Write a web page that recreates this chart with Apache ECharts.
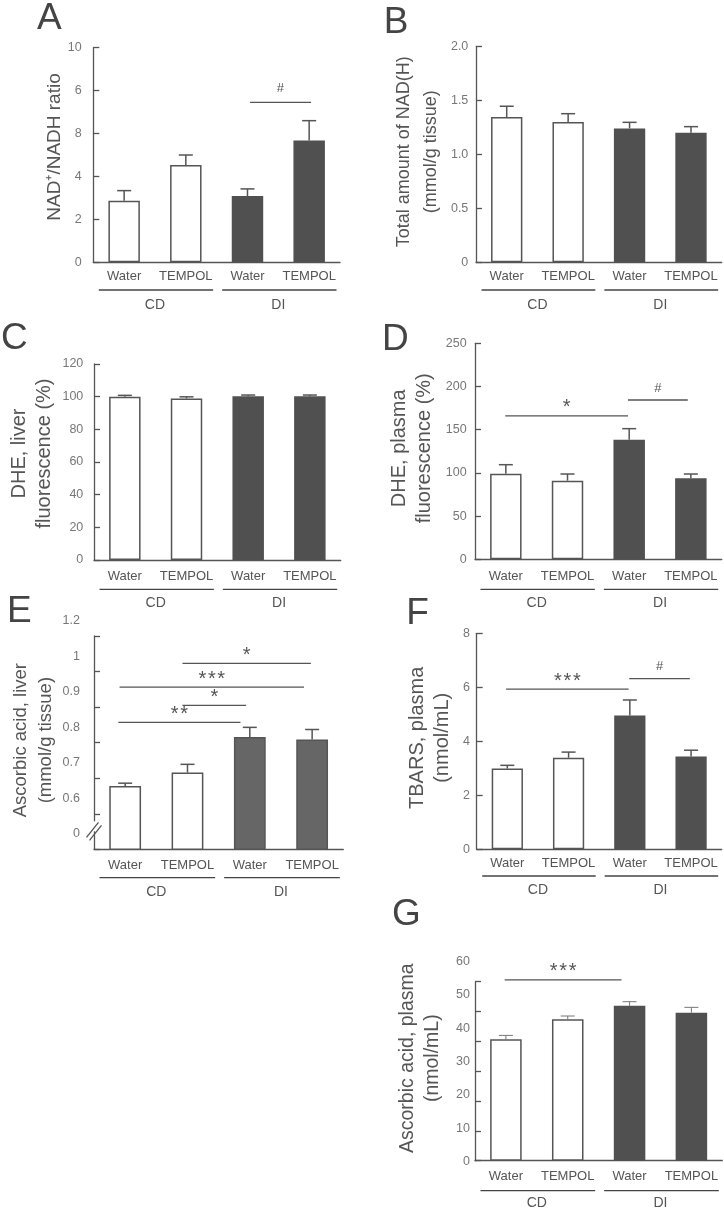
<!DOCTYPE html>
<html><head><meta charset="utf-8">
<script src="https://cdn.jsdelivr.net/npm/echarts@6/dist/echarts.min.js"></script>
<style>html,body{margin:0;padding:0;background:#fff}#c{width:724px;height:1214px}</style>
</head><body><div id="c"></div>
<script>
const categories = ['Water', 'TEMPOL', 'Water', 'TEMPOL'];
const groups = ['CD', 'DI'];

// A: NAD+/NADH ratio
const meanA = [2.87, 4.53, 3.09, 5.68];
const semA = [0.47, 0.47, 0.33, 0.92];
const ticksA = ['0', '2', '4', '8', '6', '10'];
const sigA = [[2.04, 3.03, 7.45, '#']];
// B: Total NAD(H)
const meanB = [1.345, 1.30, 1.24, 1.20];
const semB = [0.10, 0.076, 0.056, 0.056];
const ticksB = ['0', '0.5', '1.0', '1.5', '2.0'];
const sigB = [];
// C: DHE liver
const meanC = [100.0, 98.9, 100.2, 100.2];
const semC = [0.8, 1.0, 0.8, 0.8];
const ticksC = ['0', '20', '40', '60', '80', '100', '120'];
const sigC = [];
// D: DHE plasma
const meanD = [99, 91, 138.5, 93.7];
const semD = [10.5, 7.7, 12.7, 5.0];
const ticksD = ['0', '50', '100', '150', '200', '250'];
const sigD = [[-0.01, 1.98, 166, '*'], [1.98, 2.95, 184.4, '#']];
// E: Ascorbic acid liver (broken axis)
const meanE = [0.628, 0.666, 0.766, 0.759];
const semE = [0.008, 0.023, 0.027, 0.028];
const ticksE = ['0', '0.6', '0.7', '0.8', '0.9', '1', '1.2'];
const sigE = [[0.92, 2.98, 0.973, '*'], [-0.09, 2.87, 0.906, '***'], [0.92, 1.94, 0.855, '*'], [-0.11, 1.85, 0.807, '**']];
// F: TBARS plasma
const meanF = [2.99, 3.39, 4.96, 3.44];
const semF = [0.12, 0.21, 0.57, 0.23];
const ticksF = ['0', '2', '4', '6', '8'];
const sigF = [[-0.02, 1.98, 5.93, '***'], [1.99, 2.98, 6.32, '#']];
// G: Ascorbic acid plasma
const meanG = [40.7, 47.4, 51.9, 49.6];
const semG = [1.3, 1.1, 1.4, 1.8];
const ticksG = ['0', '10', '20', '30', '40', '50', '60'];
const sigG = [[-0.02, 1.87, 60.6, '***']];

const FONT = '"Liberation Sans", Arial, Helvetica, sans-serif';
const AX = '#555';

const panels = [
  {letter:'A', lx:37, ly:19, grid:{left:93.3, top:47.7, width:246.7, height:214.6},
   min:0, max:10, interval:2, ticks:ticksA, mean:meanA, sem:semA, sig:sigA,
   name:'NAD\u207A/NADH ratio', nameSize:19, nameLH:25, nameGap:25.7, namePad:16,
   labelMargin:11.6, catMargin:7.9, lineOff:27.7, groupMargin:35.7, hashGap:14,
   dark:'#505050', darkBorder:'#505050', errColor:'#555', errWidth:1.5},
  {letter:'B', lx:383.7, ly:22.5, grid:{left:476, top:46.3, width:245.7, height:216},
   min:0, max:2, interval:0.5, ticks:ticksB, mean:meanB, sem:semB, sig:sigB,
   name:'Total amount of NAD(H)\n(mmol/g tissue)', nameSize:18, nameLH:27, nameGap:31.5, namePad:5,
   labelMargin:7.7, catMargin:8, lineOff:27.7, groupMargin:35.7,
   dark:'#505050', darkBorder:'#505050', errColor:'#555', errWidth:1.5},
  {letter:'C', lx:1, ly:339, grid:{left:94, top:364, width:246.7, height:196},
   min:0, max:120, interval:20, ticks:ticksC, mean:meanC, sem:semC, sig:sigC,
   name:'DHE, liver\nfluorescence (%)', nameSize:20, nameLH:25, nameGap:36.8, namePad:17,
   labelMargin:10.7, catMargin:9.5, lineOff:29.3, groupMargin:36.3,
   dark:'#505050', darkBorder:'#505050', errColor:'#555', errWidth:1.5},
  {letter:'D', lx:382, ly:340, grid:{left:475, top:343.3, width:246.7, height:216},
   min:0, max:250, interval:50, ticks:ticksD, mean:meanD, sem:semD, sig:sigD,
   name:'DHE, plasma\nfluorescence (%)', nameSize:20, nameLH:25, nameGap:37.8, namePad:6,
   labelMargin:8.3, catMargin:10.2, lineOff:30, groupMargin:37,
   dark:'#505050', darkBorder:'#505050', errColor:'#555', errWidth:1.5},
  {letter:'E', lx:7, ly:612, grid:{left:94, top:636, width:249.3, height:213.3},
   min:0.45, max:1.05, interval:0.1, ticks:ticksE, mean:meanE, sem:semE, sig:sigE,
   name:'Ascorbic acid, liver\n(mmol/g tissue)', nameSize:18.5, nameLH:25, nameGap:36, namePad:5,
   labelMargin:14, labelRaise:31, catMargin:9.2, lineOff:28.4, groupMargin:36,
   dark:'#666666', darkBorder:'#555555', errColor:'#555', errWidth:1.5, broken:true},
  {letter:'F', lx:406.3, ly:614, grid:{left:476.7, top:633.3, width:245, height:216},
   min:0, max:8, interval:2, ticks:ticksF, mean:meanF, sem:semF, sig:sigF,
   name:'TBARS, plasma\n(nmol/mL)', nameSize:20, nameLH:25, nameGap:21.5, namePad:7,
   labelMargin:6.7, catMargin:7.5, lineOff:26.7, groupMargin:34.3,
   dark:'#505050', darkBorder:'#505050', errColor:'#555', errWidth:1.5},
  {letter:'G', lx:392, ly:915, grid:{left:475, top:981.7, width:247.3, height:179},
   min:0, max:60, interval:10, ticks:ticksG, mean:meanG, sem:semG, sig:sigG,
   name:'Ascorbic acid, plasma\n(nmol/mL)', nameSize:19.5, nameLH:25.5, nameGap:29.6, namePad:7,
   labelMargin:5, catMargin:9.5, lineOff:30, groupMargin:35.6,
   dark:'#505050', darkBorder:'#505050', errColor:'#777', errWidth:1,
   labelGrid:{left:475, top:961.7, width:247.3, height:200}}
];

const grids = [], xAxes = [], yAxes = [], series = [], graphics = [];

function nameCfg(p) {
  return {
    name: p.name, nameLocation: 'middle', nameGap: p.nameGap, nameRotate: 90, nameMoveOverlap: false,
    nameTextStyle: {fontSize: p.nameSize, lineHeight: p.nameLH, color: '#555', fontFamily: FONT,
      verticalAlign: 'bottom', align: 'center', padding: [0, 0, 0, p.namePad]}
  };
}

panels.forEach((p) => {
  const gi = grids.length;
  grids.push(Object.assign({containLabel: false, outerBoundsMode: 'none'}, p.grid));
  const xi = xAxes.length;
  xAxes.push({type: 'category', gridIndex: gi, data: categories, boundaryGap: true, position: 'bottom',
    axisLine: {lineStyle: {color: AX, width: 1.3}},
    axisTick: {inside: true, length: 5, interval: 0, lineStyle: {color: AX, width: 1.3}},
    axisLabel: {interval: 0, margin: p.catMargin, color: '#555', fontSize: 13, fontFamily: FONT},
    splitLine: {show: false}});
  xAxes.push({type: 'category', gridIndex: gi, data: groups, boundaryGap: true, position: 'bottom',
    axisLine: {show: false}, axisTick: {show: false}, splitLine: {show: false},
    axisLabel: {interval: 0, margin: p.groupMargin, color: '#555', fontSize: 14, fontFamily: FONT}});
  const yi = yAxes.length;
  const showLabels = !p.labelGrid;
  const lab = {show: showLabels, margin: p.labelMargin, color: '#777', fontSize: 12.5, fontFamily: FONT,
    formatter: (v, i) => p.ticks[i]};
  if (p.labelRaise) { lab.verticalAlign = 'bottom'; lab.lineHeight = p.labelRaise; }
  const y = {type: 'value', gridIndex: gi, min: p.min, max: p.max, interval: p.interval,
    axisLine: {show: true, lineStyle: {color: AX, width: 1.3}},
    axisTick: {show: true, inside: true, length: 6, lineStyle: {color: AX, width: 1.3}},
    splitLine: {show: false}, axisLabel: lab};
  if (showLabels) Object.assign(y, nameCfg(p));
  yAxes.push(y);

  // bars
  series.push({type: 'bar', xAxisIndex: xi, yAxisIndex: yi, barWidth: '51%', silent: true, z: 2,
    data: p.mean.map((v, i) => ({value: v, itemStyle: i < 2
      ? {color: '#ffffff', borderColor: '#555', borderWidth: 1.5}
      : {color: p.dark, borderColor: p.darkBorder, borderWidth: 1.5}}))});

  // error bars (upper only)
  series.push({type: 'custom', xAxisIndex: xi, yAxisIndex: yi, z: 4, silent: true, clip: false,
    data: p.mean.map((m, i) => [i, m, p.sem[i]]),
    renderItem: (params, api) => {
      const i = api.value(0), m = api.value(1), s = api.value(2);
      const a = api.coord([i, m]), b = api.coord([i, m + s]);
      const st = {stroke: p.errColor, lineWidth: p.errWidth};
      return {type: 'group', children: [
        {type: 'line', shape: {x1: a[0], y1: a[1], x2: b[0], y2: b[1]}, style: st},
        {type: 'line', shape: {x1: b[0] - 7, y1: b[1], x2: b[0] + 7, y2: b[1]}, style: st}
      ]};
    }});

  // significance brackets
  if (p.sig.length) {
    series.push({type: 'custom', xAxisIndex: xi, yAxisIndex: yi, z: 4, silent: true, clip: false,
      data: p.sig.map(s => [Math.round(s[0]), s[2]]),
      renderItem: (params, api) => {
        const s = p.sig[params.dataIndex];
        const bw = api.size([1, 0])[0];
        const xAt = f => { const k = Math.round(f); return api.coord([k, s[2]])[0] + (f - k) * bw; };
        const x1 = xAt(s[0]), x2 = xAt(s[1]);
        const yy = api.coord([0, s[2]])[1];
        const isHash = s[3] === '#';
        const txt = isHash ? '#' : s[3].split('').join('\u200A');
        return {type: 'group', children: [
          {type: 'line', shape: {x1: x1, y1: yy, x2: x2, y2: yy}, style: {stroke: '#555', lineWidth: 1.3}},
          {type: 'text', style: {text: txt, x: (x1 + x2) / 2, y: isHash ? yy - (p.hashGap || 12) : yy - 8,
            align: 'center', verticalAlign: 'middle', fill: '#555',
            font: (isHash ? '13px ' : '20px ') + FONT}}
        ]};
      }});
  }

  // group underlines
  series.push({type: 'custom', xAxisIndex: xi, yAxisIndex: yi, z: 4, silent: true, clip: false,
    data: groups.map((g, k) => [k * 2, p.min]),
    renderItem: (params, api) => {
      const k = params.dataIndex * 2;
      const bw = api.size([1, 0])[0];
      const cs = params.coordSys;
      const yy = cs.y + cs.height + p.lineOff;
      const c0 = api.coord([k, p.min])[0];
      return {type: 'line', shape: {x1: c0 - bw / 2 + 5.5, y1: yy, x2: c0 + 1.5 * bw - 3.5, y2: yy},
        style: {stroke: '#444', lineWidth: 1.3}};
    }});

  // broken-axis symbol
  if (p.broken) {
    series.push({type: 'custom', xAxisIndex: xi, yAxisIndex: yi, z: 5, silent: true, clip: false,
      data: [[0, p.min]],
      renderItem: (params, api) => {
        const cs = params.coordSys;
        const x = cs.x, b = cs.y + cs.height;
        const st = {stroke: '#555', lineWidth: 1.3};
        return {type: 'group', children: [
          {type: 'rect', shape: {x: x - 2.5, y: b - 28, width: 5, height: 10}, style: {fill: '#fff'}},
          {type: 'line', shape: {x1: x - 7.5, y1: b - 12, x2: x + 4.5, y2: b - 27}, style: st},
          {type: 'line', shape: {x1: x - 4.5, y1: b - 9, x2: x + 7.5, y2: b - 24}, style: st}
        ]};
      }});
  }

  // separate label scale (G)
  if (p.labelGrid) {
    const lg = grids.length;
    grids.push(Object.assign({containLabel: false, outerBoundsMode: 'none'}, p.labelGrid));
    xAxes.push({type: 'value', gridIndex: lg, show: false, min: 0, max: 1});
    yAxes.push(Object.assign({type: 'value', gridIndex: lg, min: p.min, max: p.max, interval: p.interval,
      axisLine: {show: false}, axisTick: {show: false}, splitLine: {show: false},
      axisLabel: {show: true, margin: p.labelMargin, color: '#777', fontSize: 12.5, fontFamily: FONT,
        formatter: (v, i) => p.ticks[i]}}, nameCfg(p)));
  }

  graphics.push({type: 'text', x: p.lx, y: p.ly, silent: true,
    style: {text: p.letter, fill: '#444', font: '37px ' + FONT, align: 'left', verticalAlign: 'middle'}});
});

const chart = echarts.init(document.getElementById('c'), null, {renderer: 'canvas', width: 724, height: 1214});
chart.setOption({
  animation: false,
  backgroundColor: '#ffffff',
  grid: grids, xAxis: xAxes, yAxis: yAxes, series: series, graphic: graphics
});
</script>
</body></html>
